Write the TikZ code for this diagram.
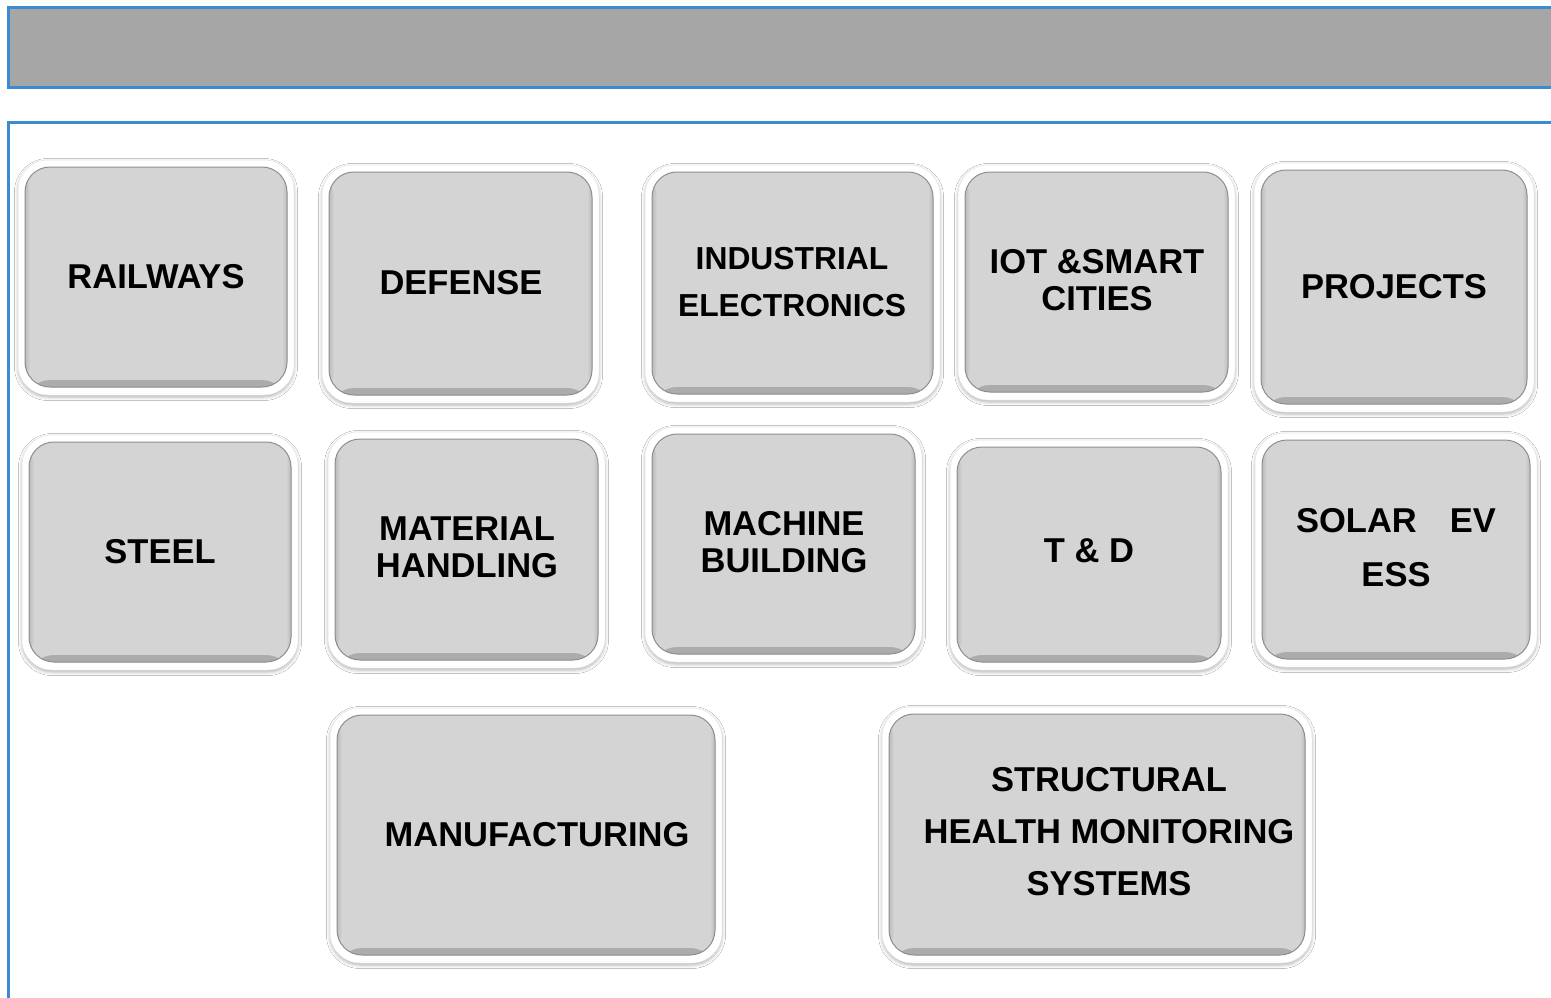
\documentclass[tikz,border=0pt]{standalone}
\usepackage{fontspec}
\setmainfont{Liberation Sans}
\usetikzlibrary{shadows.blur}
\definecolor{frameblue}{HTML}{3A8BD2}
\definecolor{bannergray}{HTML}{A6A6A6}
\definecolor{tilegray}{HTML}{D4D4D4}
\definecolor{tileedge}{HTML}{8E8E8E}
\definecolor{tiledark}{HTML}{ABABAB}
\tikzset{
  outerbox/.style={rectangle, rounded corners=30pt, fill=white, draw=black!10, line width=0.5pt,
    inner sep=0pt, outer sep=0pt,
    blur shadow={shadow xshift=0pt, shadow yshift=-2pt, shadow blur radius=3.5pt, shadow opacity=30}},
  innerbox/.style={rectangle, rounded corners=25pt, fill=tilegray, draw=tileedge, line width=1pt,
    inner sep=0pt, outer sep=0pt,
    path picture={
      \fill[top color=tilegray, bottom color=tiledark]
        ([yshift=7pt]path picture bounding box.south west) rectangle (path picture bounding box.south east);
      \fill[left color=tiledark!60!tilegray, right color=tilegray]
        (path picture bounding box.south west) rectangle ([xshift=5pt]path picture bounding box.north west);
      \fill[right color=tiledark!60!tilegray, left color=tilegray]
        ([xshift=-5pt]path picture bounding box.south east) rectangle (path picture bounding box.north east);
    }},
  lbl/.style={align=center, inner sep=0pt, font=\bfseries\fontsize{34.5}{37}\selectfont},
  frame/.style={draw=frameblue, line width=3pt}
}
% name, x1, y1, x2, y2 (pixel coordinates, y downward)
\newcommand\tile[5]{%
  \node[outerbox, minimum width={(#4-(#2))*1pt}, minimum height={(#5-(#3))*1pt}]
    (#1) at ({(#2+#4)/2},{(#3+#5)/2}) {};
  \node[innerbox, minimum width={(#4-(#2)-14)*1pt}, minimum height={(#5-(#3)-15)*1pt}]
    (#1in) at ([yshift=0.5pt]#1.center) {};
}
\begin{document}
\begin{tikzpicture}[x=1pt,y=-1pt]
\useasboundingbox (0,0) rectangle (1551,998);
\clip (0,0) rectangle (1551,998);
\fill[white] (0,0) rectangle (1551,998);
% banner and panel
\path[frame, fill=bannergray] (8,8) rectangle (1565,88);
\path[frame] (8,122) rectangle (1565,1015);
% row 1
\tile{rail}{18}{160}{294}{395}
\tile{def}{322}{165}{599}{403}
\tile{ind}{645}{165}{940}{402}
\tile{iot}{958}{165}{1235}{400}
\tile{proj}{1254}{163}{1534}{412}
% row 2
\tile{steel}{22}{435}{298}{670}
\tile{mat}{328}{432}{605}{668}
\tile{mach}{645}{427}{922}{662}
\tile{td}{950}{440}{1228}{670}
\tile{solar}{1255}{433}{1537}{667}
% row 3
\tile{manu}{330}{708}{722}{963}
\tile{shm}{882}{707}{1312}{963}
% labels
\node[lbl] (railt) at (156,277) {RAILWAYS};
\node[lbl] (deft) at (461,283) {DEFENSE};
\node[lbl, font=\bfseries\fontsize{31.8}{47}\selectfont] (indt) at (792,282.5) {INDUSTRIAL\\ELECTRONICS};
\node[lbl] (iott) at (1097,280.5) {IOT \&SMART\\CITIES};
\node[lbl] (projt) at (1394,287) {PROJECTS};
\node[lbl] (steelt) at (160,552) {STEEL};
\node[lbl] (matt) at (467,547.5) {MATERIAL\\HANDLING};
\node[lbl] (macht) at (784,542.5) {MACHINE\\BUILDING};
\node[lbl] (tdt) at (1089,551) {T \& D};
\node[lbl, font=\bfseries\fontsize{34.5}{54}\selectfont] (solart) at (1396,548) {SOLAR\hspace{33pt}EV\\ESS};
\node[lbl] (manut) at (537,835) {MANUFACTURING};
\node[lbl, font=\bfseries\fontsize{34.5}{52}\selectfont] (shmt) at (1109,832) {STRUCTURAL\\HEALTH MONITORING\\SYSTEMS};
\end{tikzpicture}
\end{document}
